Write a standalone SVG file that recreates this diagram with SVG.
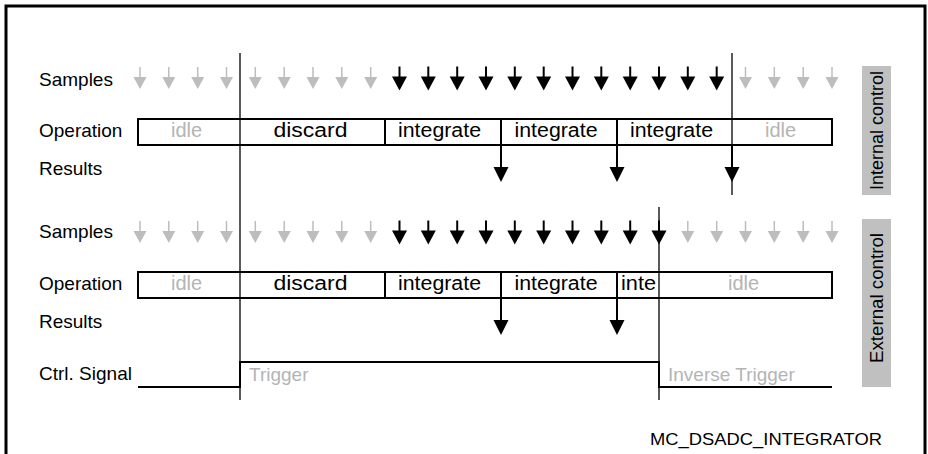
<svg xmlns="http://www.w3.org/2000/svg" xmlns:xlink="http://www.w3.org/1999/xlink" width="928" height="454" viewBox="0 0 928 454">
<style>
text{font-family:"Liberation Sans",Arial,sans-serif;}
.lbl{font-size:19px;fill:#000;}
.op{font-size:20px;fill:#000;}
.gr{fill:#b4b4b4;}
.box{fill:#fff;stroke:#000;stroke-width:2;}
.div{stroke:#000;stroke-width:2;}
.vl{stroke:#000;stroke-width:1.3;fill:none;}
.sig{stroke:#000;stroke-width:2;fill:none;}
.side{fill:#c0c0c0;}
</style>
<defs>
<g id="ga"><line x1="0" y1="0" x2="0" y2="12" stroke="#bdbdbd" stroke-width="1.5"/><polygon points="-6.5,10 6.5,10 0,22" fill="#bdbdbd"/></g>
<g id="ba"><line x1="0" y1="0" x2="0" y2="11" stroke="#000" stroke-width="2"/><polygon points="-7.5,10 7.5,10 0,24" fill="#000"/></g>
<polygon id="rh" points="-7.5,0 7.5,0 0,15" fill="#000"/>
</defs>
<rect x="6" y="6" width="919" height="460" fill="#fff" stroke="#000" stroke-width="3"/>

<g id="labels-row1">
<text class="lbl" x="39" y="86">Samples</text>
<text class="lbl" x="39" y="137">Operation</text>
<text class="lbl" x="39" y="175">Results</text>
</g>
<g id="labels-row2">
<text class="lbl" x="39" y="238">Samples</text>
<text class="lbl" x="39" y="290">Operation</text>
<text class="lbl" x="39" y="328">Results</text>
<text class="lbl" x="39" y="380">Ctrl. Signal</text>
</g>

<g id="samples-row1">
<use xlink:href="#ga" x="140" y="67"/><use xlink:href="#ga" x="168.8" y="67"/><use xlink:href="#ga" x="197.7" y="67"/><use xlink:href="#ga" x="226.5" y="67"/><use xlink:href="#ga" x="255.3" y="67"/><use xlink:href="#ga" x="284.2" y="67"/><use xlink:href="#ga" x="313" y="67"/><use xlink:href="#ga" x="341.8" y="67"/><use xlink:href="#ga" x="370.7" y="67"/>
<use xlink:href="#ba" x="399.5" y="66.5"/><use xlink:href="#ba" x="428.3" y="66.5"/><use xlink:href="#ba" x="457.2" y="66.5"/><use xlink:href="#ba" x="486" y="66.5"/><use xlink:href="#ba" x="514.8" y="66.5"/><use xlink:href="#ba" x="543.7" y="66.5"/><use xlink:href="#ba" x="572.5" y="66.5"/><use xlink:href="#ba" x="601.3" y="66.5"/><use xlink:href="#ba" x="630.2" y="66.5"/><use xlink:href="#ba" x="659" y="66.5"/><use xlink:href="#ba" x="687.8" y="66.5"/><use xlink:href="#ba" x="716.7" y="66.5"/>
<use xlink:href="#ga" x="745.5" y="67"/><use xlink:href="#ga" x="774.3" y="67"/><use xlink:href="#ga" x="803.2" y="67"/><use xlink:href="#ga" x="832" y="67"/>
</g>
<g id="samples-row2">
<use xlink:href="#ga" x="140" y="221"/><use xlink:href="#ga" x="168.8" y="221"/><use xlink:href="#ga" x="197.7" y="221"/><use xlink:href="#ga" x="226.5" y="221"/><use xlink:href="#ga" x="255.3" y="221"/><use xlink:href="#ga" x="284.2" y="221"/><use xlink:href="#ga" x="313" y="221"/><use xlink:href="#ga" x="341.8" y="221"/><use xlink:href="#ga" x="370.7" y="221"/>
<use xlink:href="#ba" x="399.5" y="220.5"/><use xlink:href="#ba" x="428.3" y="220.5"/><use xlink:href="#ba" x="457.2" y="220.5"/><use xlink:href="#ba" x="486" y="220.5"/><use xlink:href="#ba" x="514.8" y="220.5"/><use xlink:href="#ba" x="543.7" y="220.5"/><use xlink:href="#ba" x="572.5" y="220.5"/><use xlink:href="#ba" x="601.3" y="220.5"/><use xlink:href="#ba" x="630.2" y="220.5"/><use xlink:href="#ba" x="659" y="220.5"/>
<use xlink:href="#ga" x="687.8" y="221"/><use xlink:href="#ga" x="716.7" y="221"/><use xlink:href="#ga" x="745.5" y="221"/><use xlink:href="#ga" x="774.3" y="221"/><use xlink:href="#ga" x="803.2" y="221"/><use xlink:href="#ga" x="832" y="221"/>
</g>

<g id="operation-row1">
<rect class="box" x="138" y="119" width="694" height="26"/>
<line class="div" x1="385" y1="119" x2="385" y2="145"/>
<line class="div" x1="501" y1="119" x2="501" y2="145"/>
<line class="div" x1="617" y1="119" x2="617" y2="145"/>
<text class="op gr" x="171" y="137">idle</text>
<text class="op" x="273.5" y="137" textLength="74" lengthAdjust="spacingAndGlyphs">discard</text>
<text class="op" x="398" y="137" textLength="83" lengthAdjust="spacingAndGlyphs">integrate</text>
<text class="op" x="514.5" y="137" textLength="83" lengthAdjust="spacingAndGlyphs">integrate</text>
<text class="op" x="630" y="137" textLength="83" lengthAdjust="spacingAndGlyphs">integrate</text>
<text class="op gr" x="765" y="137">idle</text>
</g>
<g id="operation-row2">
<rect class="box" x="138" y="272" width="694" height="26"/>
<line class="div" x1="385" y1="272" x2="385" y2="298"/>
<line class="div" x1="501" y1="272" x2="501" y2="298"/>
<line class="div" x1="617" y1="272" x2="617" y2="298"/>
<text class="op gr" x="171" y="290">idle</text>
<text class="op" x="273.5" y="290" textLength="74" lengthAdjust="spacingAndGlyphs">discard</text>
<text class="op" x="398" y="290" textLength="83" lengthAdjust="spacingAndGlyphs">integrate</text>
<text class="op" x="514.5" y="290" textLength="83" lengthAdjust="spacingAndGlyphs">integrate</text>
<text class="op" x="621" y="290" textLength="35" lengthAdjust="spacingAndGlyphs">inte</text>
<text class="op gr" x="728" y="290">idle</text>
</g>

<g id="connectors">
<line class="vl" x1="240" y1="53" x2="240" y2="400"/>
<line class="vl" x1="732" y1="53" x2="732" y2="195"/>
<line class="vl" x1="659" y1="207" x2="659" y2="400"/>
<line class="div" x1="501" y1="145" x2="501" y2="168"/><use xlink:href="#rh" x="501" y="167"/>
<line class="div" x1="617" y1="145" x2="617" y2="168"/><use xlink:href="#rh" x="617" y="167"/>
<line class="div" x1="732" y1="145" x2="732" y2="168"/><use xlink:href="#rh" x="732" y="167"/>
<line class="div" x1="501" y1="298" x2="501" y2="321"/><use xlink:href="#rh" x="501" y="320"/>
<line class="div" x1="617" y1="298" x2="617" y2="321"/><use xlink:href="#rh" x="617" y="320"/>
</g>

<g id="ctrl-signal">
<polyline class="sig" points="138,387 240,387 240,362 659,362 659,387 832,387"/>
<text class="lbl gr" x="249" y="381">Trigger</text>
<text class="lbl gr" x="668" y="381">Inverse Trigger</text>
</g>

<g id="internal-control">
<rect class="side" x="862" y="66" width="29" height="129"/>
<text x="0" y="0" font-size="18" text-anchor="middle" transform="translate(883,130.5) rotate(-90)">Internal control</text>
</g>
<g id="external-control">
<rect class="side" x="862" y="219" width="29" height="168"/>
<text x="0" y="0" font-size="18" text-anchor="middle" textLength="130" lengthAdjust="spacingAndGlyphs" transform="translate(883,298) rotate(-90)">External control</text>
</g>

<g id="caption">
<text x="650" y="445" font-size="17" textLength="232" lengthAdjust="spacingAndGlyphs">MC_DSADC_INTEGRATOR</text>
</g>
</svg>
